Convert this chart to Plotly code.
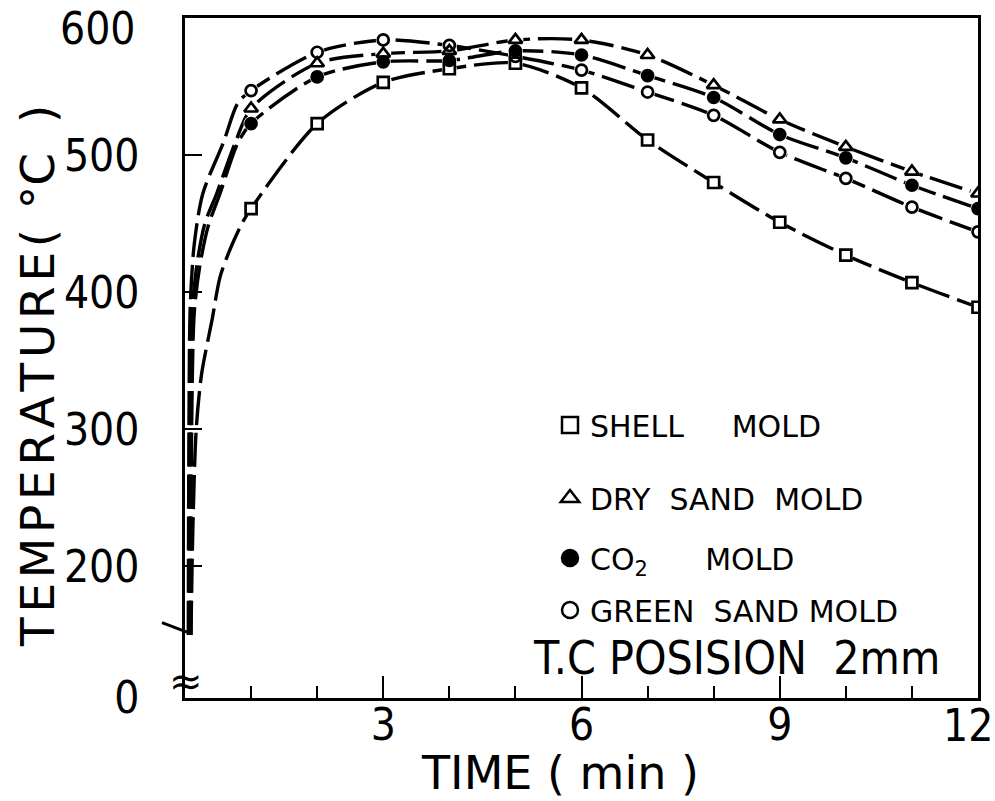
import plotly.graph_objects as go

# ---- data ----
minutes = [1, 2, 3, 4, 5, 6, 7, 8, 9, 10, 11, 12]
shell_vals = [461, 523, 553, 563, 567, 549, 511, 480, 451, 427, 407, 389]
dry_vals = [534, 567, 574, 576, 584, 584, 573, 551, 526, 506, 488, 472]
co2_vals = [523, 557, 568, 569, 576, 573, 558, 542, 515, 498, 478, 461]
green_vals = [547, 575, 584, 580, 572, 562, 546, 529, 502, 483, 462, 444]

# early (first minute) rise
shell_early_t = [0.09, 0.12, 0.17, 0.25, 0.41, 0.53, 0.68, 0.86]
shell_early_v = [150, 230, 300, 340, 380, 411, 431, 450]
dry_early_t = [0.07, 0.08, 0.11, 0.18, 0.30, 0.48, 0.76]
dry_early_v = [150, 300, 385, 420, 450, 472, 509]
co2_early_t = [0.09, 0.10, 0.14, 0.22, 0.35, 0.53, 0.80]
co2_early_v = [150, 300, 385, 418, 448, 472, 509]
green_early_t = [0.05, 0.06, 0.08, 0.14, 0.27, 0.58, 0.80]
green_early_v = [150, 300, 390, 435, 472, 509, 538]

NB = "\u00a0"
series_names = ["SHELL" + NB * 5 + "MOLD",
                "DRY" + NB * 2 + "SAND" + NB * 2 + "MOLD",
                "CO<sub>2</sub>" + NB * 6 + "MOLD",
                "GREEN" + NB * 2 + "SAND" + NB + "MOLD"]
x_tickvals = [3, 6, 9]          # 12 sits on the right frame; its label is placed separately
x_last_tick = 12
x_minor_tickvals = [1, 2, 4, 5, 7, 8, 10, 11]
y_tickvals = [104, 200, 300, 400, 500]   # 600 sits on the top frame; label placed separately
y_ticktext = ["0", "200", "300", "400", "500"]
y_top_tick = 600

NARROW = "Liberation Sans Narrow, DejaVu Sans Condensed, sans-serif"
COND = "DejaVu Sans Condensed, Liberation Sans Narrow, sans-serif"
SANS = "DejaVu Sans, sans-serif"

series = [
    (shell_early_t, shell_early_v, shell_vals, "square-open", 11),
    (dry_early_t, dry_early_v, dry_vals, "triangle-up-open", 12),
    (co2_early_t, co2_early_v, co2_vals, "circle", 11),
    (green_early_t, green_early_v, green_vals, "circle-open", 11),
]

fig = go.Figure()

# lines
for et, ev, vals, sym, sz in series:
    fig.add_trace(go.Scatter(
        x=et + minutes, y=ev + vals, mode="lines",
        line=dict(color="black", width=3.4, dash="34px,8px", shape="spline", smoothing=0.8),
        showlegend=False, hoverinfo="skip"))

# white gaps around markers
for et, ev, vals, sym, sz in series:
    fig.add_trace(go.Scatter(
        x=minutes, y=vals, mode="markers",
        marker=dict(symbol="circle", size=sz + 4, color="white"),
        showlegend=False, hoverinfo="skip"))

# markers
for et, ev, vals, sym, sz in series:
    fig.add_trace(go.Scatter(
        x=minutes, y=vals, mode="markers",
        marker=dict(symbol=sym, size=sz, color="black", line=dict(color="black", width=2.7)),
        showlegend=False))

# legend entries
legend_ids = ["legend", "legend2", "legend3", "legend4"]
for (et, ev, vals, sym, sz), name, lid in zip(series, series_names, legend_ids):
    fig.add_trace(go.Scatter(
        x=[None], y=[None], mode="markers", name=name, legend=lid,
        marker=dict(symbol=sym, size=16, color="black", line=dict(color="black", width=2.5)),
        showlegend=True))

L, R, T, B = 185, 17, 18, 103
W, H = 995, 801
PW, PH = W - L - R, H - T - B

def px(xp):
    return (xp - L) / PW

def py(yp):
    return (H - B - yp) / PH

leg_common = dict(xanchor="left", yanchor="middle", bgcolor="rgba(0,0,0,0)",
                  font=dict(size=30, family=SANS, color="black"), borderwidth=0)
legend_rows = [425, 498, 558, 610]
legend_layout = {}
for lid, yy in zip(legend_ids, legend_rows):
    legend_layout[lid] = dict(x=px(550), y=py(yy), **leg_common)

HS = "\u200a"
ytitle = HS.join(list("TEMPERATURE(")) + NB + HS + "°C" + NB + NB + ")"

fig.update_layout(
    width=W, height=H,
    margin=dict(l=L, r=R, t=T, b=B),
    paper_bgcolor="white", plot_bgcolor="white",
    showlegend=True,
    **legend_layout,
    xaxis=dict(range=[0, 12], showline=True, linecolor="black", linewidth=2.5, mirror=True,
               ticks="inside", ticklen=22, tickwidth=2, tickcolor="black",
               tickmode="array", tickvals=x_tickvals, ticktext=[str(v) for v in x_tickvals],
               tickfont=dict(size=44, family=NARROW, color="black"),
               showgrid=False, zeroline=False, ticklabelstandoff=-14,
               minor=dict(tickmode="array", tickvals=x_minor_tickvals, ticks="inside",
                          ticklen=12, tickwidth=2, tickcolor="black", showgrid=False)),
    yaxis=dict(range=[104, 600], showline=True, linecolor="black", linewidth=2.5, mirror=True,
               ticks="inside", ticklen=17, tickwidth=2, tickcolor="black",
               tickmode="array", tickvals=y_tickvals, ticktext=y_ticktext,
               tickfont=dict(size=44, family=NARROW, color="black"),
               showgrid=False, zeroline=False, ticklabelstandoff=34),
    annotations=[
        dict(text=str(x_last_tick), xref="x", yref="paper", x=x_last_tick, y=py(725), xshift=R,
             xanchor="right", yanchor="middle", showarrow=False,
             font=dict(size=44, family=NARROW, color="black")),
        dict(text=str(y_top_tick), xref="paper", yref="y", x=px(138), y=y_top_tick, yshift=-10,
             xanchor="right", yanchor="middle", showarrow=False,
             font=dict(size=44, family=NARROW, color="black")),
        dict(text="TIME ( min )", xref="paper", yref="paper", x=px(560), y=py(773),
             xanchor="center", yanchor="middle", showarrow=False,
             font=dict(size=46, family=SANS, color="black")),
        dict(text=ytitle, xref="paper", yref="paper", x=px(37), y=py(376),
             xanchor="center", yanchor="middle", textangle=-90, showarrow=False,
             font=dict(size=47, family=SANS, color="black")),
        dict(text="T.C" + NB + "POSISION" + NB + NB + "2mm", xref="paper", yref="paper",
             x=px(736), y=py(658), xanchor="center", yanchor="middle", showarrow=False,
             font=dict(size=46, family=COND, color="black")),
        dict(text="≈", xref="paper", yref="paper", x=px(186), y=py(681),
             xanchor="center", yanchor="middle", showarrow=False,
             font=dict(size=40, family=SANS, color="black")),
    ],
    shapes=[
        dict(type="line", xref="paper", yref="y", x0=px(162), y0=159, x1=px(187), y1=152,
             line=dict(color="black", width=3)),
    ],
)

fig.write_html("out.html")
